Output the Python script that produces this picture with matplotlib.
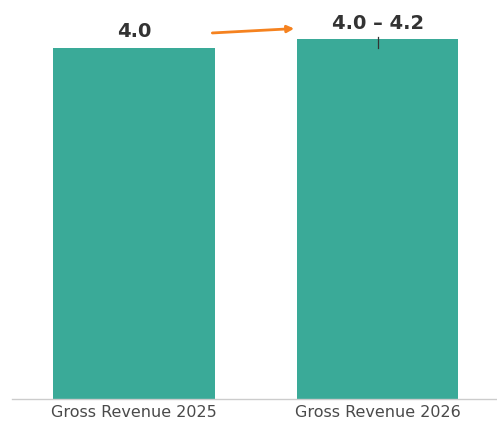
import matplotlib.pyplot as plt

categories = ['Gross Revenue 2025', 'Gross Revenue 2026']
values = [4.0, 4.1]
labels = ['4.0', '4.0 – 4.2']
range_2026 = (4.0, 4.12)

bar_color = '#3aaa98'
arrow_color = '#f5821f'
text_color = '#333333'

plt.rcParams['font.family'] = ['DejaVu Sans']

fig = plt.figure(figsize=(4.97, 4.21), dpi=100)
ax = fig.add_axes([12 / 497, 22 / 421, 485 / 497, 395 / 421])

x = list(range(len(categories)))
width = 0.664
ax.bar(x, values, width=width, color=bar_color, zorder=2)

# small tick marking the guidance range on the second bar
ax.plot([x[1], x[1]], range_2026, color='#333333', lw=0.9, zorder=3)

for xi, v, lab in zip(x, values, labels):
    ax.annotate(lab, (xi, v), xytext=(0, 11.5), textcoords='offset points',
                ha='center', va='center', fontsize=14, fontweight='bold',
                color=text_color)

# arrow between the two value labels
ax.annotate('', xy=(x[1] - width / 2 - 0.01, 4.22),
            xytext=(x[0] + width / 2 - 0.01, 4.17),
            arrowprops=dict(arrowstyle='-|>', color=arrow_color, lw=2,
                            mutation_scale=10, shrinkA=0, shrinkB=0))

ax.set_xlim(-0.5, 1.49)
ax.set_ylim(0, 4.5)
ax.set_xticks(x)
ax.set_xticklabels(categories, fontsize=11.5, color='#4a4a4a')
ax.tick_params(axis='x', length=0, pad=4)
ax.set_yticks([])
for side in ['top', 'right', 'left']:
    ax.spines[side].set_visible(False)
ax.spines['bottom'].set_color('#cccccc')
ax.spines['bottom'].set_linewidth(1)

fig.savefig('out.png', dpi=100)
